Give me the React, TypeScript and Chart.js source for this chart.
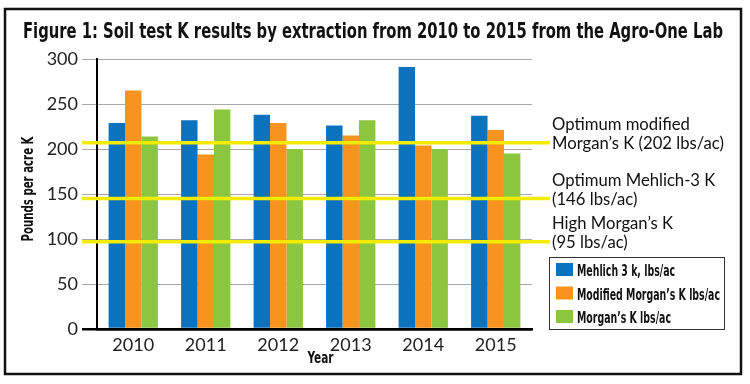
import React, { useEffect, useRef } from "react";
import { Chart, registerables } from "chart.js";

Chart.register(...registerables);

const years = ["2010", "2011", "2012", "2013", "2014", "2015"];
const mehlich3 = [229, 232, 238, 226, 291, 237];
const modifiedMorgan = [265, 194, 229, 215, 204, 221];
const morgan = [214, 244, 200, 232, 200, 195];
const seriesLabels = ["Mehlich 3 k, lbs/ac", "Modified Morgan’s K lbs/ac", "Morgan’s K lbs/ac"];
const seriesColors = ["#0b72bd", "#f7931e", "#8cc63f"];
const yTicks = [0, 50, 100, 150, 200, 250, 300];
const referenceValues = [207, 145, 97];
const referenceLabels = [
  ["Optimum modified", "Morgan’s K (202 lbs/ac)"],
  ["Optimum Mehlich-3 K", "(146 lbs/ac)"],
  ["High Morgan’s K", "(95 lbs/ac)"],
];
const titleText = "Figure 1: Soil test K results by extraction from 2010 to 2015 from the Agro-One Lab";
const yTitle = "Pounds per acre K";
const xTitle = "Year";

const COND = '"Liberation Sans Narrow", "DejaVu Sans Condensed", "Roboto Condensed", Roboto, sans-serif';
const GEO = 'Lato, "Open Sans", sans-serif';

function scaleFor(ctx: CanvasRenderingContext2D, text: string, width: number) {
  const w = ctx.measureText(text).width;
  return w > 0 ? width / w : 1;
}

function drawScaled(ctx: CanvasRenderingContext2D, text: string, x: number, y: number, sx: number, align: CanvasTextAlign = "left") {
  ctx.save();
  ctx.translate(x, y);
  ctx.scale(sx, 1);
  ctx.textAlign = align;
  ctx.textBaseline = "alphabetic";
  ctx.fillText(text, 0, 0);
  ctx.restore();
}

const decorPlugin = {
  id: "decor",
  beforeDraw(chart: any) {
    const ctx = chart.ctx as CanvasRenderingContext2D;
    ctx.save();
    ctx.fillStyle = "#ffffff";
    ctx.fillRect(0, 0, chart.width, chart.height);
    ctx.restore();
  },
  afterDatasetsDraw(chart: any) {
    const ctx = chart.ctx as CanvasRenderingContext2D;
    const yScale = chart.scales.y;
    const area = chart.chartArea;
    ctx.save();
    ctx.strokeStyle = "#f4ec00";
    ctx.lineWidth = 3.5;
    referenceValues.forEach((v) => {
      const y = yScale.getPixelForValue(v);
      ctx.beginPath();
      ctx.moveTo(area.left - 15, y);
      ctx.lineTo(area.right + 18, y);
      ctx.stroke();
    });
    ctx.restore();
  },
  afterDraw(chart: any) {
    const ctx = chart.ctx as CanvasRenderingContext2D;
    const yScale = chart.scales.y;
    const area = chart.chartArea;
    ctx.save();
    ctx.fillStyle = "#111111";

    // Title
    ctx.font = `bold 22px ${COND}`;
    drawScaled(ctx, titleText, 23, 38, scaleFor(ctx, titleText, 700));

    // Y axis title
    ctx.font = `bold 15px ${COND}`;
    const sy = scaleFor(ctx, yTitle, 105);
    ctx.save();
    ctx.translate(33, (area.top + area.bottom) / 2 - 5);
    ctx.rotate(-Math.PI / 2);
    drawScaled(ctx, yTitle, 0, 0, sy, "center");
    ctx.restore();

    // X axis title
    ctx.font = `bold 16px ${COND}`;
    drawScaled(ctx, xTitle, (area.left + area.right) / 2 + 6, 363, scaleFor(ctx, xTitle, 26), "center");

    // Reference labels
    ctx.font = `17px ${GEO}`;
    const sa = scaleFor(ctx, referenceLabels[0][1], 172);
    referenceValues.forEach((v, i) => {
      const y = yScale.getPixelForValue(v);
      drawScaled(ctx, referenceLabels[i][0], area.right + 20, y - 13, sa);
      drawScaled(ctx, referenceLabels[i][1], area.right + 20, y + 6, sa);
    });

    // Legend
    const lx = 549, ly = 257, lw = 175, lh = 72;
    ctx.strokeStyle = "#333333";
    ctx.lineWidth = 1;
    ctx.strokeRect(lx + 0.5, ly + 0.5, lw, lh);
    ctx.font = `bold 16px ${COND}`;
    const sl = scaleFor(ctx, seriesLabels[1], 143);
    chart.data.datasets.forEach((ds: any, i: number) => {
      const top = 263 + i * 23.5;
      ctx.fillStyle = ds.backgroundColor;
      ctx.fillRect(556, top, 17, 13);
      ctx.fillStyle = "#111111";
      drawScaled(ctx, ds.label, 577, top + 13, sl);
    });

    // Frame
    ctx.strokeStyle = "#111111";
    ctx.lineWidth = 2.5;
    ctx.strokeRect(5, 9, 736, 365);
    ctx.restore();
  },
};

export default function App() {
  const ref = useRef<HTMLCanvasElement | null>(null);
  useEffect(() => {
    document.body.style.margin = "0";
    const canvas = ref.current;
    if (!canvas) return;
    const chart = new Chart(canvas, {
      type: "bar",
      data: {
        labels: years,
        datasets: [mehlich3, modifiedMorgan, morgan].map((d, i) => ({
          label: seriesLabels[i],
          data: d,
          backgroundColor: seriesColors[i],
          borderWidth: 0,
          categoryPercentage: 0.68,
          barPercentage: 1.0,
        })),
      },
      options: {
        responsive: false,
        animation: false,
        devicePixelRatio: 1,
        layout: { padding: { top: 59, right: 218, bottom: 0, left: 0 } },
        plugins: {
          legend: { display: false },
          title: { display: false },
          tooltip: { enabled: false },
        },
        scales: {
          x: {
            ticks: { color: "#222222", font: { family: GEO, size: 18 }, padding: 5 },
            grid: { display: true, drawOnChartArea: false, drawTicks: false },
            border: { color: "#000000", width: 2.5 },
            afterFit: (s: any) => {
              s.height = 55;
            },
          },
          y: {
            min: 0,
            max: 300,
            afterBuildTicks: (s: any) => {
              s.ticks = yTicks.map((v) => ({ value: v }));
            },
            ticks: { color: "#222222", font: { family: GEO, size: 18 }, padding: 4 },
            grid: {
              color: (c: any) => (c.tick && c.tick.value === 0 ? "#000000" : "#a8a8a8"),
              lineWidth: (c: any) => (c.tick && c.tick.value === 0 ? 2.5 : 1),
              tickLength: 15,
            },
            border: { color: "#000000", width: 2 },
            afterFit: (s: any) => {
              s.width = 97;
            },
          },
        },
      },
      plugins: [decorPlugin],
    });
    return () => chart.destroy();
  }, []);
  return <canvas ref={ref} width={750} height={384} style={{ display: "block", width: 750, height: 384 }} />;
}
